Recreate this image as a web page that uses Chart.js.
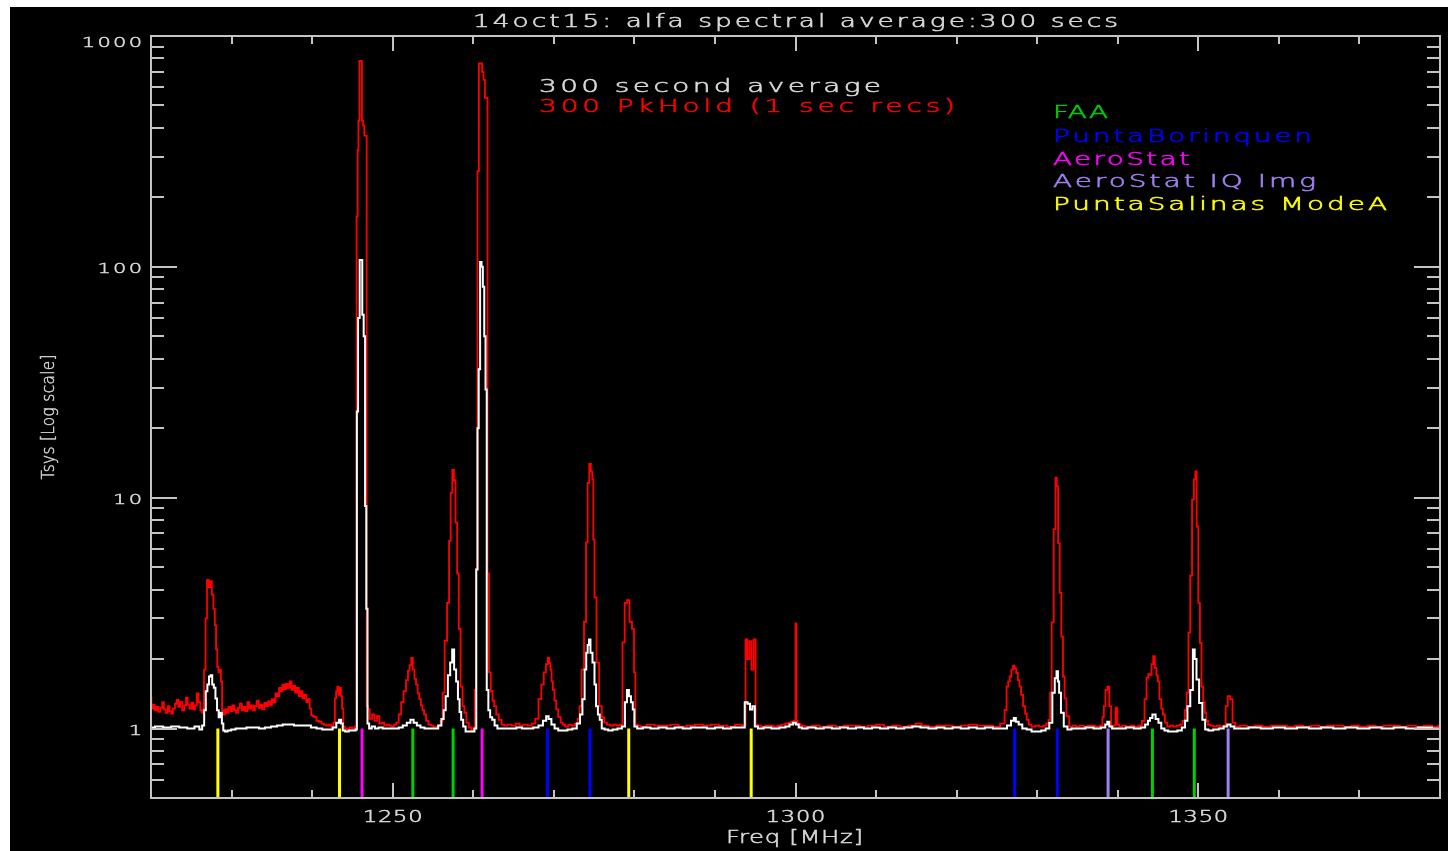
<!DOCTYPE html>
<html>
<head>
<meta charset="utf-8">
<title>14oct15: alfa spectral average:300 secs</title>
<script src="https://cdn.jsdelivr.net/npm/chart.js@4.4.1/dist/chart.umd.min.js"></script>
<style>
  html, body { margin: 0; padding: 0; background: #fff; overflow: hidden; }
  canvas { display: block; }
</style>
</head>
<body>
<canvas id="spectrum" width="1448" height="851"></canvas>
<script>
const titleText = '14oct15: alfa spectral average:300 secs'
const xTitle = 'Freq [MHz]'
const yTitle = 'Tsys [Log scale]'
const xTickLabels = [1250, 1300, 1350]
const yTickLabels = [1, 10, 100, 1000]

const seriesNames = ['300 second average', '300 PkHold (1 sec recs)']
const emitterNames = ['FAA', 'PuntaBorinquen', 'AeroStat', 'AeroStat IQ Img', 'PuntaSalinas ModeA']

// radar frequencies (MHz) for each emitter
const faaMHz = [1252.5, 1257.5, 1344.3, 1349.5]
const puntaBorinquenMHz = [1269.2, 1274.5, 1327.2, 1332.5]
const aeroStatMHz = [1246.2, 1261.1]
const aeroStatImgMHz = [1338.8, 1353.7]
const puntaSalinasMHz = [1228.3, 1243.4, 1279.3, 1294.5]

// [freq MHz, Tsys] 300 sec average
const avgSpectrum = [
  [1220.0, 1.01], [1221.0, 1.02], [1222.0, 1.01], [1223.0, 1.02], [1224.0, 1.01], [1225.0, 1.0], [1225.8, 1.02],
  [1226.2, 0.99], [1226.5, 1.03], [1226.7, 1.2], [1226.9, 1.45], [1227.1, 1.55], [1227.3, 1.68], [1227.5, 1.7],
  [1227.7, 1.55], [1227.9, 1.5], [1228.1, 1.35], [1228.3, 1.2], [1228.5, 1.12], [1228.7, 1.17], [1228.9, 1.05],
  [1229.05, 0.98], [1229.3, 0.97], [1229.7, 0.98], [1230.2, 0.99], [1230.8, 1.0], [1231.5, 1.0], [1232.2, 1.01],
  [1233.0, 1.01], [1233.8, 1.0], [1234.5, 1.01], [1235.3, 1.02], [1236.0, 1.03], [1236.7, 1.04], [1237.4, 1.04],
  [1238.1, 1.03], [1238.8, 1.03], [1239.5, 1.03], [1240.2, 1.01], [1240.9, 1.0], [1241.6, 0.99], [1242.3, 0.99],
  [1242.8, 1.01], [1243.2, 1.06], [1243.5, 1.09], [1243.7, 1.05], [1243.9, 0.98], [1244.3, 0.97], [1244.8, 0.98],
  [1245.3, 0.98], [1245.5, 0.99],
  [1245.6, 23.6], [1245.8, 60], [1246.0, 107], [1246.15, 107], [1246.3, 62], [1246.5, 50], [1246.65, 9.2],
  [1246.8, 3.3], [1246.95, 1.05],
  [1247.2, 1.0], [1247.6, 1.02], [1248.0, 1.0], [1248.5, 1.01], [1249.0, 1.0], [1249.5, 1.0], [1250.0, 1.0],
  [1250.5, 1.0], [1251.0, 1.01], [1251.5, 1.03], [1252.0, 1.06], [1252.4, 1.09], [1252.8, 1.06], [1253.2, 1.03],
  [1253.7, 1.01], [1254.2, 1.0], [1254.8, 1.0], [1255.4, 1.0], [1255.9, 1.03], [1256.2, 1.1], [1256.45, 1.2],
  [1256.7, 1.38], [1257.0, 1.7], [1257.27, 1.93], [1257.5, 2.2], [1257.75, 1.8], [1258.0, 1.6], [1258.2, 1.34],
  [1258.4, 1.18], [1258.6, 1.09], [1258.9, 1.02], [1259.2, 0.97], [1259.6, 0.97], [1260.0, 0.97], [1260.3, 1.0],
  [1260.45, 4.88], [1260.6, 20], [1260.75, 36], [1260.95, 105], [1261.1, 100], [1261.28, 82], [1261.45, 50],
  [1261.6, 29.4], [1261.75, 1.47], [1262.0, 1.2], [1262.2, 1.12], [1262.5, 1.09], [1262.8, 1.03], [1263.2, 1.0],
  [1263.7, 1.0], [1264.3, 1.0], [1265.0, 1.0], [1265.7, 1.01], [1266.4, 1.0], [1267.1, 1.0], [1267.8, 1.01],
  [1268.4, 1.03], [1268.9, 1.08], [1269.2, 1.13], [1269.5, 1.1], [1269.9, 1.04], [1270.3, 1.0], [1270.8, 0.98],
  [1271.4, 0.98], [1272.0, 0.99], [1272.6, 1.0], [1273.1, 1.05], [1273.4, 1.15], [1273.7, 1.34], [1273.95, 1.8],
  [1274.1, 2.13], [1274.3, 2.3], [1274.45, 2.43], [1274.65, 2.13], [1274.95, 1.93], [1275.15, 1.55], [1275.35, 1.25],
  [1275.6, 1.15], [1275.8, 1.09], [1276.1, 1.0], [1276.5, 0.99], [1277.0, 0.98], [1277.6, 0.99], [1278.2, 1.0],
  [1278.7, 1.02], [1278.95, 1.3], [1279.2, 1.47], [1279.45, 1.38], [1279.7, 1.3], [1279.9, 1.21], [1280.1, 1.02],
  [1280.6, 1.0], [1281.5, 1.01], [1282.5, 1.0], [1283.5, 1.01], [1284.5, 1.0], [1285.5, 1.01], [1286.5, 1.0],
  [1287.5, 1.01], [1288.5, 1.01], [1289.5, 1.0], [1290.5, 1.01], [1291.5, 1.0], [1292.5, 1.01], [1293.5, 1.01],
  [1293.9, 1.3], [1294.2, 1.28], [1294.5, 1.21], [1294.8, 1.25], [1295.1, 1.02], [1295.6, 1.0], [1296.5, 1.01],
  [1297.5, 1.0], [1298.5, 1.01], [1299.0, 1.02], [1299.5, 1.04], [1299.9, 1.06], [1300.2, 1.04], [1300.6, 1.01],
  [1301.0, 1.0], [1302.0, 1.01], [1303.0, 1.0], [1304.0, 1.01], [1305.0, 1.0], [1306.0, 1.01], [1307.0, 1.0],
  [1308.0, 1.01], [1309.0, 1.0], [1310.0, 1.01], [1311.0, 1.0], [1312.0, 1.01], [1313.0, 1.0], [1314.0, 1.01],
  [1315.0, 1.02], [1316.0, 1.01], [1317.0, 1.0], [1318.0, 1.01], [1319.0, 1.0], [1320.0, 1.01], [1321.0, 1.0],
  [1322.0, 1.01], [1323.0, 1.0], [1324.0, 1.01], [1325.0, 1.0], [1326.0, 1.0], [1326.5, 1.03], [1327.0, 1.08],
  [1327.2, 1.11], [1327.5, 1.07], [1327.9, 1.04], [1328.4, 1.0], [1329.0, 0.99], [1329.6, 0.97], [1330.2, 0.97],
  [1330.8, 0.98], [1331.3, 1.0], [1331.7, 1.06], [1332.06, 1.43], [1332.3, 1.65], [1332.5, 1.77], [1332.65, 1.6],
  [1332.8, 1.43], [1333.1, 1.17], [1333.5, 1.02], [1334.0, 0.99], [1334.5, 1.0], [1335.5, 1.0], [1336.5, 1.01],
  [1337.5, 1.0], [1338.3, 1.01], [1338.6, 1.04], [1338.8, 1.07], [1339.1, 1.02], [1339.5, 1.0], [1340.5, 1.0],
  [1341.5, 1.01], [1342.5, 1.0], [1343.2, 1.01], [1343.6, 1.04], [1343.9, 1.08], [1344.1, 1.11], [1344.5, 1.15],
  [1344.9, 1.1], [1345.2, 1.06], [1345.6, 1.0], [1346.0, 0.98], [1346.5, 0.97], [1347.1, 0.97], [1347.7, 0.98],
  [1348.2, 1.01], [1348.5, 1.08], [1348.8, 1.25], [1349.2, 1.47], [1349.45, 2.2], [1349.65, 2.0], [1349.9, 1.63],
  [1350.3, 1.29], [1350.7, 1.09], [1351.0, 0.99], [1351.5, 0.98], [1352.2, 0.99], [1352.9, 1.0], [1353.4, 1.02],
  [1353.8, 1.04], [1354.2, 1.02], [1354.7, 1.0], [1355.5, 1.0], [1357.0, 1.01], [1358.5, 1.0], [1360.0, 1.01],
  [1361.5, 1.0], [1363.0, 1.01], [1364.5, 1.0], [1366.0, 1.01], [1367.5, 1.0], [1369.0, 1.01], [1370.5, 1.0],
  [1372.0, 1.01], [1373.5, 1.0], [1375.0, 1.01], [1376.5, 1.0], [1378.0, 1.01], [1380.0, 1.0]
]

// [freq MHz, Tsys] peak hold of 300 one second records
const pkHoldSpectrum = [
  [1220.0, 1.36], [1220.1, 1.22], [1220.35, 1.27], [1220.55, 1.2], [1220.8, 1.24], [1221.0, 1.18], [1221.3, 1.23],
  [1221.5, 1.3], [1221.7, 1.21], [1221.95, 1.17], [1222.2, 1.25], [1222.4, 1.19], [1222.6, 1.16], [1222.85, 1.22],
  [1223.1, 1.28], [1223.3, 1.33], [1223.5, 1.24], [1223.75, 1.3], [1224.0, 1.2], [1224.25, 1.26], [1224.45, 1.36],
  [1224.65, 1.27], [1224.9, 1.22], [1225.15, 1.29], [1225.35, 1.21], [1225.55, 1.26], [1225.8, 1.42], [1226.0, 1.3],
  [1226.25, 1.2], [1226.45, 1.17],
  [1226.7, 1.8], [1226.85, 3.0], [1227.05, 4.4], [1227.25, 4.1], [1227.45, 4.35], [1227.65, 3.8], [1227.85, 3.3],
  [1228.0, 2.8], [1228.15, 2.2], [1228.3, 1.85], [1228.45, 1.75], [1228.6, 1.8], [1228.75, 1.6], [1228.9, 1.2],
  [1229.05, 1.15], [1229.3, 1.21], [1229.5, 1.17], [1229.75, 1.24], [1230.0, 1.19], [1230.2, 1.26], [1230.45, 1.2],
  [1230.7, 1.17], [1230.9, 1.23], [1231.15, 1.28], [1231.4, 1.2], [1231.6, 1.24], [1231.85, 1.19], [1232.1, 1.3],
  [1232.3, 1.22], [1232.55, 1.26], [1232.8, 1.2], [1233.0, 1.25], [1233.25, 1.32], [1233.5, 1.23], [1233.7, 1.27],
  [1233.95, 1.21], [1234.2, 1.29], [1234.4, 1.25], [1234.65, 1.31], [1234.9, 1.26], [1235.1, 1.34], [1235.35, 1.3],
  [1235.55, 1.42], [1235.8, 1.38], [1236.0, 1.5], [1236.2, 1.45], [1236.45, 1.55], [1236.65, 1.48], [1236.9, 1.56],
  [1237.1, 1.5], [1237.35, 1.6], [1237.55, 1.47], [1237.8, 1.53], [1238.0, 1.43], [1238.25, 1.5], [1238.45, 1.38],
  [1238.7, 1.45], [1238.9, 1.35], [1239.15, 1.4], [1239.4, 1.3], [1239.6, 1.34], [1239.8, 1.22], [1240.0, 1.14],
  [1240.2, 1.13], [1240.4, 1.12], [1240.7, 1.08], [1241.0, 1.07], [1241.3, 1.05], [1241.6, 1.04], [1241.9, 1.03],
  [1242.2, 1.04], [1242.5, 1.02], [1242.75, 1.06],
  [1242.9, 1.35], [1243.05, 1.45], [1243.2, 1.52], [1243.35, 1.4], [1243.5, 1.5], [1243.65, 1.38], [1243.8, 1.22],
  [1243.95, 1.02], [1244.2, 1.0], [1244.5, 0.99], [1244.8, 1.01], [1245.1, 1.0], [1245.45, 1.02],
  [1245.6, 165], [1245.7, 320], [1245.8, 430], [1245.95, 780], [1246.1, 780], [1246.25, 430], [1246.4, 410],
  [1246.55, 370], [1246.7, 370], [1246.85, 1.25],
  [1247.0, 1.21], [1247.3, 1.1], [1247.6, 1.15], [1247.9, 1.08], [1248.2, 1.13], [1248.5, 1.05], [1248.8, 1.06],
  [1249.1, 1.03], [1249.4, 1.04], [1249.7, 1.03], [1250.0, 1.02], [1250.3, 1.04], [1250.6, 1.06], [1250.9, 1.15],
  [1251.2, 1.3], [1251.5, 1.45], [1251.8, 1.62], [1252.0, 1.78], [1252.2, 1.88], [1252.4, 2.02], [1252.6, 1.8],
  [1252.8, 1.64], [1253.0, 1.55], [1253.2, 1.42], [1253.4, 1.34], [1253.6, 1.26], [1253.8, 1.2], [1254.0, 1.15],
  [1254.3, 1.08], [1254.6, 1.04], [1254.9, 1.03], [1255.2, 1.02], [1255.5, 1.02], [1255.8, 1.03], [1256.1, 1.08],
  [1256.3, 1.43], [1256.6, 2.4], [1256.9, 3.5], [1257.1, 6.5], [1257.3, 10.5], [1257.5, 13.2], [1257.7, 11.9],
  [1257.9, 7.8], [1258.1, 4.7], [1258.3, 2.7], [1258.55, 1.52], [1258.8, 1.25], [1259.0, 1.17], [1259.3, 1.06],
  [1259.6, 1.01], [1259.9, 0.98], [1260.1, 1.0],
  [1260.25, 1.47], [1260.45, 4.9], [1260.6, 260], [1260.8, 760], [1261.0, 760], [1261.2, 700], [1261.35, 645],
  [1261.55, 540], [1261.7, 540], [1261.85, 4.7], [1262.05, 1.75], [1262.3, 1.45], [1262.5, 1.32], [1262.7, 1.25],
  [1263.0, 1.15], [1263.35, 1.09], [1263.7, 1.04], [1264.0, 1.03], [1264.5, 1.04], [1265.0, 1.03], [1265.5, 1.05],
  [1266.0, 1.03], [1266.5, 1.04], [1267.0, 1.03], [1267.5, 1.05], [1267.9, 1.1], [1268.3, 1.34], [1268.6, 1.55],
  [1268.9, 1.75], [1269.15, 1.9], [1269.35, 2.03], [1269.5, 1.92], [1269.65, 1.8], [1269.8, 1.6], [1269.97, 1.47],
  [1270.2, 1.32], [1270.4, 1.21], [1270.7, 1.12], [1271.0, 1.06], [1271.2, 1.04], [1271.6, 1.02], [1272.0, 1.04],
  [1272.4, 1.03], [1272.8, 1.05], [1273.1, 1.1], [1273.3, 1.25], [1273.6, 1.8], [1273.9, 2.9], [1274.1, 6.4],
  [1274.3, 11.6], [1274.5, 14.0], [1274.7, 13.0], [1274.85, 12.0], [1274.95, 6.6], [1275.15, 3.7], [1275.45, 1.93],
  [1275.8, 1.25], [1276.1, 1.12], [1276.4, 1.06], [1276.8, 1.04], [1277.2, 1.03], [1277.6, 1.04], [1278.0, 1.03],
  [1278.4, 1.04], [1278.65, 2.36], [1278.95, 3.5], [1279.25, 3.6], [1279.55, 2.9], [1279.85, 2.7], [1280.05, 1.75],
  [1280.2, 1.04], [1280.6, 1.03], [1281.0, 1.02], [1282.0, 1.04], [1283.0, 1.03], [1284.0, 1.03], [1285.0, 1.04],
  [1286.0, 1.02], [1287.0, 1.03], [1288.0, 1.04], [1289.0, 1.03], [1290.0, 1.04], [1291.0, 1.03], [1292.0, 1.02],
  [1293.0, 1.04], [1293.7, 1.03], [1293.9, 2.43], [1294.15, 2.0], [1294.4, 2.39], [1294.65, 1.8], [1294.95, 2.43],
  [1295.15, 1.04], [1295.5, 1.03], [1296.0, 1.02], [1296.5, 1.03], [1297.0, 1.03], [1297.5, 1.02], [1298.0, 1.03],
  [1298.5, 1.04], [1298.9, 1.05], [1299.3, 1.06], [1299.7, 1.07], [1299.95, 1.08], [1300.05, 2.85], [1300.15, 1.08],
  [1300.4, 1.05], [1300.8, 1.03], [1301.5, 1.02], [1302.5, 1.03], [1303.5, 1.02], [1304.5, 1.03], [1305.5, 1.02],
  [1306.5, 1.03], [1307.5, 1.03], [1308.5, 1.02], [1309.5, 1.03], [1310.5, 1.04], [1311.5, 1.02], [1312.5, 1.03],
  [1313.5, 1.02], [1314.5, 1.03], [1315.3, 1.05], [1316.0, 1.03], [1317.0, 1.02], [1318.0, 1.03], [1319.0, 1.03],
  [1320.0, 1.02], [1321.0, 1.03], [1322.0, 1.04], [1323.0, 1.03], [1324.0, 1.03], [1325.0, 1.02], [1325.8, 1.05],
  [1326.1, 1.2], [1326.3, 1.52], [1326.5, 1.6], [1326.7, 1.68], [1326.9, 1.8], [1327.1, 1.87], [1327.3, 1.82],
  [1327.5, 1.74], [1327.7, 1.62], [1327.9, 1.52], [1328.1, 1.4], [1328.4, 1.25], [1328.6, 1.16], [1328.8, 1.09],
  [1329.1, 1.04], [1329.5, 1.02], [1330.0, 1.03], [1330.5, 1.02], [1331.0, 1.03], [1331.3, 1.05], [1331.5, 1.09],
  [1331.7, 1.43], [1331.9, 2.88], [1332.2, 7.3], [1332.35, 12.2], [1332.5, 11.2], [1332.7, 6.35], [1332.9, 3.87],
  [1333.1, 2.5], [1333.3, 1.68], [1333.5, 1.35], [1333.75, 1.13], [1334.2, 1.02], [1334.6, 1.03], [1335.0, 1.02],
  [1335.5, 1.03], [1336.0, 1.02], [1336.5, 1.03], [1337.0, 1.03], [1337.5, 1.02], [1338.0, 1.03], [1338.2, 1.12],
  [1338.35, 1.25], [1338.6, 1.47], [1338.85, 1.52], [1339.05, 1.25], [1339.3, 1.02], [1339.6, 1.03], [1339.85, 1.23],
  [1340.05, 1.04], [1340.3, 1.02], [1340.8, 1.03], [1341.3, 1.02], [1341.8, 1.03], [1342.3, 1.02], [1342.8, 1.03],
  [1343.2, 1.08], [1343.45, 1.34], [1343.7, 1.66], [1343.9, 1.72], [1344.1, 1.71], [1344.3, 1.9], [1344.5, 2.06],
  [1344.7, 1.83], [1344.9, 1.7], [1345.05, 1.6], [1345.3, 1.34], [1345.5, 1.22], [1345.7, 1.15], [1346.0, 1.06],
  [1346.3, 1.02], [1346.7, 1.03], [1347.1, 1.02], [1347.5, 1.03], [1347.9, 1.04], [1348.2, 1.08], [1348.45, 1.2],
  [1348.65, 1.43], [1348.9, 2.6], [1349.1, 4.6], [1349.35, 9.8], [1349.55, 12.0], [1349.7, 13.0], [1349.9, 7.5],
  [1350.1, 3.5], [1350.3, 2.35], [1350.5, 1.52], [1350.7, 1.3], [1350.9, 1.17], [1351.1, 1.08], [1351.3, 1.04],
  [1351.7, 1.03], [1352.1, 1.02], [1352.5, 1.03], [1352.9, 1.02], [1353.3, 1.03], [1353.5, 1.25], [1353.8, 1.38],
  [1354.1, 1.34], [1354.4, 1.06], [1354.8, 1.02], [1355.5, 1.03], [1356.5, 1.02], [1357.5, 1.03], [1358.5, 1.02],
  [1359.5, 1.03], [1360.5, 1.03], [1361.5, 1.02], [1362.5, 1.03], [1363.5, 1.02], [1364.5, 1.03], [1365.5, 1.02],
  [1366.5, 1.03], [1367.5, 1.03], [1368.5, 1.02], [1369.5, 1.03], [1370.5, 1.02], [1371.5, 1.03], [1372.5, 1.02],
  [1373.5, 1.03], [1374.5, 1.03], [1375.5, 1.02], [1376.5, 1.03], [1377.5, 1.02], [1378.5, 1.03], [1379.5, 1.02],
  [1380.0, 1.03]
]

const axisColor = '#c4c4c4'
const textColor = '#d8d8d8'
const avgColor = '#ffffff'
const pkColor = '#ff0000'
const emitterColors = ['#00d000', '#0000ff', '#ff00ff', '#a080f0', '#ffff00']
const plotFont = '"DejaVu Sans"'

const toPoints = pairs => pairs.map(([x, y]) => ({ x, y }))
// one vertical stick per frequency, from Tsys=1 down to the axis
const markerPoints = freqs => freqs.flatMap(f => [{ x: f, y: 1 }, { x: f, y: 0.5 }, { x: f, y: null }])

// wide, letter-spaced, thin-stroked text to look like the vector font of the plot
function drawText (ctx, str, x, y, o) {
  ctx.save()
  ctx.font = `${o.weight || 300} ${o.size}px ${plotFont}`
  ctx.fillStyle = o.color
  ctx.strokeStyle = o.color
  ctx.lineWidth = o.outline === undefined ? 0.55 : o.outline
  ctx.textAlign = 'left'
  ctx.textBaseline = 'alphabetic'
  ctx.letterSpacing = '0px'
  const sx = o.stretch || 1.55
  const raw = ctx.measureText(str).width
  const gaps = Math.max(str.length - 1, 1)
  let spacing = o.spacing || 0
  if (o.width) spacing = (o.width / sx - raw) / gaps
  const w = (raw + spacing * (str.length - 1)) * sx
  let dx = 0
  if (o.align === 'center') dx = -w / 2
  else if (o.align === 'right') dx = -w
  ctx.translate(x, y)
  if (o.rotate) ctx.rotate(o.rotate)
  ctx.translate(dx, 0)
  ctx.scale(sx, 1)
  ctx.letterSpacing = spacing + 'px'
  ctx.fillText(str, 0, 0)
  if (ctx.lineWidth > 0) ctx.strokeText(str, 0, 0)
  ctx.restore()
}

function line (ctx, x1, y1, x2, y2) {
  ctx.beginPath()
  ctx.moveTo(x1, y1)
  ctx.lineTo(x2, y2)
  ctx.stroke()
}

const idlFrame = {
  id: 'idlFrame',
  beforeDraw (chart) {
    const ctx = chart.ctx
    ctx.save()
    ctx.fillStyle = '#ffffff'
    ctx.fillRect(0, 0, chart.width, chart.height)
    ctx.fillStyle = '#000000'
    ctx.fillRect(10, 7, chart.width - 10, chart.height - 7)
    ctx.restore()
  },
  afterDraw (chart) {
    const ctx = chart.ctx
    const { left, right, top, bottom } = chart.chartArea
    const xs = chart.scales.x
    const ys = chart.scales.y

    ctx.save()
    ctx.strokeStyle = axisColor
    ctx.lineWidth = 2
    ctx.strokeRect(left, top, right - left, bottom - top)

    // inward ticks on all four sides
    for (let f = xs.min + 10; f < xs.max; f += 10) {
      const px = Math.round(xs.getPixelForValue(f))
      const len = f % 50 === 0 ? 15 : 8
      line(ctx, px, bottom, px, bottom - len)
      line(ctx, px, top, px, top + len)
    }
    for (const decade of [0.1, 1, 10, 100]) {
      for (let m = 1; m <= 9; m++) {
        const v = m * decade
        if (v <= ys.min * 1.001 || v >= ys.max * 0.999) continue
        const py = Math.round(ys.getPixelForValue(v))
        const len = m === 1 ? 26 : 13
        line(ctx, left, py, left + len, py)
        line(ctx, right, py, right - len, py)
      }
    }
    ctx.restore()

    xTickLabels.forEach(v => {
      drawText(ctx, String(v), xs.getPixelForValue(v), 822, { size: 15, stretch: 1.5, spacing: 0.5, color: textColor, align: 'center' })
    })
    yTickLabels.forEach(v => {
      const py = ys.getPixelForValue(v) + (v === ys.max ? 11 : 6.5)
      drawText(ctx, String(v), 142, py, { size: 14, stretch: 1.5, spacing: 1.5, color: textColor, align: 'right' })
    })

    drawText(ctx, titleText, 473, 27, { size: 17, width: 645, color: textColor })
    drawText(ctx, xTitle, 726, 843, { size: 18, stretch: 1.35, width: 137, color: textColor })
    drawText(ctx, yTitle, 54, (top + bottom) / 2, { size: 18, outline: 0.45, stretch: 0.85, width: 125, color: textColor, align: 'center', rotate: -Math.PI / 2 })

    drawText(ctx, seriesNames[0], 539, 92, { size: 18, width: 342, color: textColor })
    drawText(ctx, seriesNames[1], 539, 112, { size: 18, width: 416, color: pkColor })

    const legendWidths = [55, 259, 137, 263, 334]
    const legendBaselines = [118, 142, 165, 187, 210]
    emitterNames.forEach((name, i) => {
      drawText(ctx, name, 1053, legendBaselines[i], { size: 18, width: legendWidths[i], color: emitterColors[i] })
    })
  }
}

const emitterGroups = [faaMHz, puntaBorinquenMHz, aeroStatMHz, aeroStatImgMHz, puntaSalinasMHz]

const datasets = [
  {
    label: seriesNames[0],
    data: toPoints(avgSpectrum),
    borderColor: avgColor,
    borderWidth: 2,
    stepped: 'middle'
  },
  {
    label: seriesNames[1],
    data: toPoints(pkHoldSpectrum),
    borderColor: pkColor,
    borderWidth: 1.8,
    stepped: 'middle'
  }
].concat(emitterGroups.map((freqs, i) => ({
  label: emitterNames[i],
  data: markerPoints(freqs),
  borderColor: emitterColors[i],
  borderWidth: 3,
  spanGaps: false
})))

datasets.forEach(ds => {
  ds.showLine = true
  ds.pointRadius = 0
  ds.fill = false
})

new Chart(document.getElementById('spectrum'), {
  type: 'scatter',
  data: { datasets },
  options: {
    responsive: false,
    animation: false,
    events: [],
    layout: { padding: { top: 36, right: 8, left: 0, bottom: 0 } },
    plugins: {
      legend: { display: false },
      tooltip: { enabled: false },
      title: { display: false }
    },
    scales: {
      x: {
        type: 'linear',
        min: 1220,
        max: 1380,
        grid: { display: false },
        border: { display: false },
        ticks: { display: false },
        afterFit: scale => { scale.height = 53 }
      },
      y: {
        type: 'logarithmic',
        min: 0.5,
        max: 1000,
        grid: { display: false },
        border: { display: false },
        ticks: { display: false },
        afterFit: scale => { scale.width = 151 }
      }
    }
  },
  plugins: [idlFrame]
})
</script>
</body>
</html>
